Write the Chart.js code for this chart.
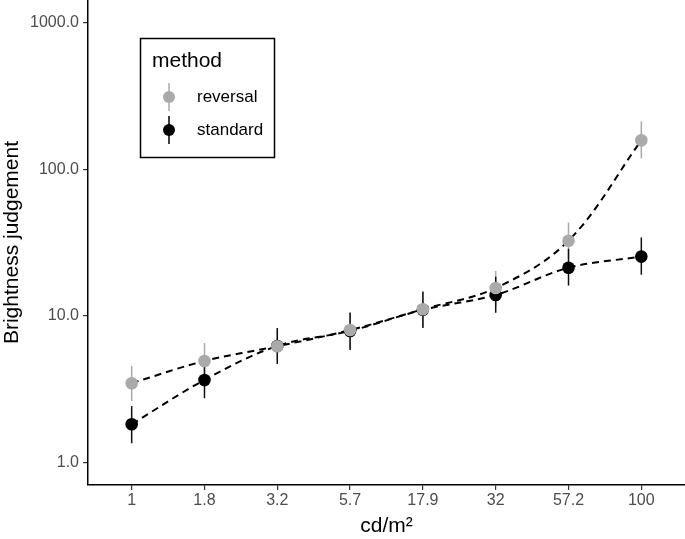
<!DOCTYPE html>
<html>
<head>
<meta charset="utf-8">
<script src="https://cdn.jsdelivr.net/npm/chart.js@4"></script>
<style>
  html, body { margin: 0; padding: 0; background: #fff; }
  #wrap { width: 685px; height: 539px; }
</style>
</head>
<body>
<div id="wrap"><canvas id="chart" width="685" height="539"></canvas></div>
<script>
const categories = ['1', '1.8', '3.2', '5.7', '17.9', '32', '57.2', '100'];
const yTicks = [1, 10, 100, 1000];

// reversal method
const reversalMean = [3.47, 4.92, 6.2, 8.0, 11.1, 15.5, 32.6, 158];
const reversalLow = [2.62, 3.70, 4.8, 6.0, 8.4, 11.7, 24.6, 119];
const reversalHigh = [4.55, 6.53, 8.1, 10.6, 14.7, 20.3, 43.4, 213];

// standard method
const standardMean = [1.82, 3.65, 6.23, 7.89, 11.0, 13.9, 21.3, 25.4];
const standardLow = [1.35, 2.74, 4.69, 5.85, 8.27, 10.5, 16.1, 19.1];
const standardHigh = [2.42, 4.84, 8.27, 10.5, 14.6, 18.5, 28.7, 34.3];

const grey = '#aaaaaa';
const font = '"Liberation Sans", Arial, sans-serif';

function toPoints(arr) {
    return arr.map((v, i) => ({ x: i, y: v }));
}

// vertical error bars, drawn under the lines and points
const errorBars = {
    id: 'errorBars',
    beforeDatasetsDraw(chart) {
        const ctx = chart.ctx;
        const xs = chart.scales.x, ys = chart.scales.y;
        const sets = [
            { low: reversalLow, high: reversalHigh, color: grey },
            { low: standardLow, high: standardHigh, color: '#111' }
        ];
        ctx.save();
        ctx.lineWidth = 1.5;
        sets.forEach(s => {
            ctx.strokeStyle = s.color;
            s.low.forEach((lo, i) => {
                const px = xs.getPixelForValue(i);
                ctx.beginPath();
                ctx.moveTo(px, ys.getPixelForValue(lo));
                ctx.lineTo(px, ys.getPixelForValue(s.high[i]));
                ctx.stroke();
            });
        });
        ctx.restore();
    }
};

// ggplot-style boxed legend inside the panel
const boxLegend = {
    id: 'boxLegend',
    afterDraw(chart) {
        const ctx = chart.ctx;
        ctx.save();
        ctx.strokeStyle = '#000';
        ctx.lineWidth = 1.5;
        ctx.strokeRect(140.5, 38.5, 134, 119);
        ctx.fillStyle = '#000';
        ctx.font = '21px ' + font;
        ctx.textBaseline = 'middle';
        ctx.fillText('method', 152, 61);
        const items = [
            { label: 'reversal', color: grey, y: 97 },
            { label: 'standard', color: '#000', y: 130 }
        ];
        items.forEach(it => {
            ctx.strokeStyle = it.color;
            ctx.beginPath();
            ctx.moveTo(169, it.y - 14);
            ctx.lineTo(169, it.y + 14);
            ctx.stroke();
            ctx.fillStyle = it.color;
            ctx.beginPath();
            ctx.arc(169, it.y, 6, 0, Math.PI * 2);
            ctx.fill();
            ctx.fillStyle = '#000';
            ctx.font = '17px ' + font;
            ctx.fillText(it.label, 197, it.y);
        });
        ctx.restore();
    }
};

new Chart(document.getElementById('chart'), {
    type: 'line',
    data: {
        datasets: [
            {
                label: 'reversal',
                data: toPoints(reversalMean),
                borderColor: '#000',
                borderWidth: 2,
                borderDash: [7, 5],
                tension: 0.35,
                pointRadius: 6.3,
                pointBorderWidth: 0,
                pointBackgroundColor: grey,
                fill: false
            },
            {
                label: 'standard',
                data: toPoints(standardMean),
                borderColor: '#000',
                borderWidth: 2,
                borderDash: [7, 5],
                tension: 0.35,
                pointRadius: 6.3,
                pointBorderWidth: 0,
                pointBackgroundColor: '#000',
                fill: false
            }
        ]
    },
    options: {
        responsive: false,
        animation: false,
        layout: { padding: 0, autoPadding: false },
        plugins: {
            legend: { display: false },
            tooltip: { enabled: false }
        },
        scales: {
            x: {
                type: 'linear',
                min: -0.6,
                max: 7.6,
                afterBuildTicks(axis) {
                    axis.ticks = categories.map((c, i) => ({ value: i }));
                },
                afterFit(axis) {
                    axis.height = 54;
                    axis.paddingLeft = 0;
                    axis.paddingRight = 0;
                },
                ticks: {
                    callback: (v) => categories[v],
                    font: { family: font, size: 16 },
                    color: '#4d4d4d',
                    padding: 1,
                    maxRotation: 0
                },
                grid: {
                    drawOnChartArea: false,
                    tickLength: 5,
                    color: '#333',
                    lineWidth: 1.2
                },
                border: { display: true, color: '#000', width: 1.5 },
                title: {
                    display: true,
                    text: 'cd/m²',
                    font: { family: font, size: 21 },
                    color: '#000',
                    padding: { top: 2, bottom: 0 }
                }
            },
            y: {
                type: 'logarithmic',
                min: 0.72,
                max: 1435,
                afterBuildTicks(axis) {
                    axis.ticks = yTicks.map(v => ({ value: v }));
                },
                afterFit(axis) {
                    axis.width = 88;
                    axis.paddingTop = 0;
                    axis.paddingBottom = 0;
                },
                ticks: {
                    callback: (v) => v.toFixed(1),
                    font: { family: font, size: 16 },
                    color: '#4d4d4d',
                    padding: 4
                },
                grid: {
                    drawOnChartArea: false,
                    tickLength: 5,
                    color: '#333',
                    lineWidth: 1.2
                },
                border: { display: true, color: '#000', width: 1.5 },
                title: {
                    display: true,
                    text: 'Brightness judgement',
                    font: { family: font, size: 21 },
                    color: '#000',
                    padding: { top: 0, bottom: 0 }
                }
            }
        }
    },
    plugins: [errorBars, boxLegend]
});
</script>
</body>
</html>
